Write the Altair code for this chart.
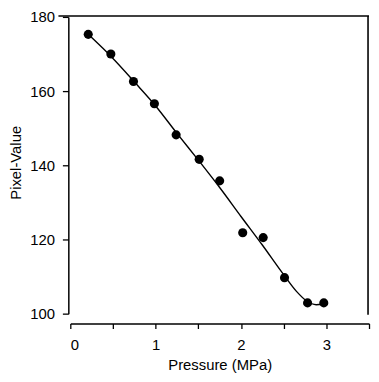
import altair as alt
import pandas as pd

# measured points
pressure = [0.21, 0.475, 0.74, 0.985, 1.24, 1.51, 1.75, 2.02, 2.26, 2.51, 2.78, 2.97]
pixel_value = [175.3, 170.0, 162.6, 156.6, 148.2, 141.6, 135.8, 121.8, 120.5, 109.7, 102.9, 102.9]

# fitted curve
curve_x = [0.21, 0.5, 0.75, 1.0, 1.25, 1.5, 1.75, 2.0, 2.25, 2.5, 2.65, 2.77, 2.88, 2.97]
curve_y = [175.3, 168.8, 162.5, 156.0, 148.6, 141.4, 134.0, 126.2, 118.5, 110.5, 106.0, 103.4, 102.4, 102.6]

x_ticks = [0, 0.5, 1, 1.5, 2, 2.5, 3, 3.5]
y_ticks = [100, 110, 120, 130, 140, 150, 160, 170, 180]

pts = pd.DataFrame({"x": pressure, "y": pixel_value})
crv = pd.DataFrame({"x": curve_x, "y": curve_y})

W, H = 302, 300
FONT = "Liberation Sans"

xscale = alt.Scale(domain=[0, 3.5], nice=False, zero=False)
yscale = alt.Scale(domain=[100, 180], nice=False, zero=False)

xaxis = alt.Axis(
    values=x_ticks,
    labelExpr="datum.value % 1 == 0 ? format(datum.value, 'd') : ''",
    offset=10, tickSize=5, labelPadding=9, grid=False,
    title="Pressure (MPa)", titlePadding=5,
)
yaxis = alt.Axis(
    values=y_ticks,
    labelExpr="datum.value % 20 == 0 ? format(datum.value, 'd') : ''",
    offset=2, tickSize=6, labelPadding=8, grid=False,
    title="Pixel-Value", titleX=-53, titleY=147, titleAngle=-90,
    titleAlign="center", titleBaseline="middle",
)

line = alt.Chart(crv).mark_line(
    interpolate="monotone", color="black", strokeWidth=1.4
).encode(
    x=alt.X("x:Q", scale=xscale, axis=xaxis),
    y=alt.Y("y:Q", scale=yscale, axis=yaxis),
)

points = alt.Chart(pts).mark_circle(color="black", opacity=1, size=85).encode(
    x=alt.X("x:Q", scale=xscale),
    y=alt.Y("y:Q", scale=yscale),
)

frame_df = pd.DataFrame({"a": [0]})
top_rule = alt.Chart(frame_df).mark_rule(color="black", strokeWidth=1.6).encode(
    x=alt.value(-12), x2=alt.value(W), y=alt.value(-1)
)
right_rule = alt.Chart(frame_df).mark_rule(color="black", strokeWidth=1.6).encode(
    x=alt.value(W - 1), y=alt.value(-1), y2=alt.value(H + 1)
)

chart = alt.layer(line, points, top_rule, right_rule).properties(
    width=W, height=H,
    autosize=alt.AutoSizeParams(type="none"),
    padding={"left": 63, "top": 7, "right": 2, "bottom": 59},
).configure_view(stroke=None).configure_axis(
    domainColor="black", domainWidth=1.5, tickColor="black", tickWidth=1.3,
    labelColor="black", titleColor="black", labelFont=FONT, titleFont=FONT,
    labelFontSize=15, titleFontSize=15, titleFontWeight="normal",
)

chart.save("out.html", embed_options={"renderer": "svg", "actions": False})
